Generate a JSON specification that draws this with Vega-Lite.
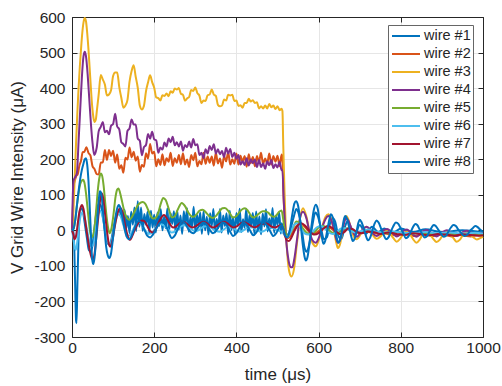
{
"$schema":"https://vega.github.io/schema/vega-lite/v6.json",
"width":411,"height":320,
"autosize":{"type":"none"},
"padding":{"left":72,"top":17,"right":19,"bottom":49},
"background":"white",
"config":{
 "view":{"stroke":null},
 "font":"Liberation Sans",
 "axis":{"labelFont":"Liberation Sans","labelFontSize":15.5,"labelColor":"#262626","titleFont":"Liberation Sans","titleFontSize":17,"titleFontWeight":"normal","titleColor":"#262626","domainColor":"#262626","tickColor":"#262626","tickSize":-5,"gridColor":"#e6e6e6","domainWidth":1,"tickWidth":1,"labelFlush":false},
 "legend":{"labelFont":"Liberation Sans"}
},
"data":{"values":[
{"s":1,"t":0,"v":0},{"s":1,"t":4,"v":0},{"s":1,"t":7,"v":-120},{"s":1,"t":10,"v":-255},{"s":1,"t":11,"v":-261},{"s":1,"t":13,"v":-160},{"s":1,"t":16,"v":-20},{"s":1,"t":19,"v":55},{"s":1,"t":23,"v":62},{"s":1,"t":27,"v":50},{"s":1,"t":31,"v":20},{"s":1,"t":36,"v":-20},{"s":1,"t":41,"v":-55},{"s":1,"t":46,"v":-60},{"s":1,"t":50,"v":-40},{"s":1,"t":55,"v":10},{"s":1,"t":60,"v":55},{"s":1,"t":65,"v":75},{"s":1,"t":70,"v":70},{"s":1,"t":75,"v":40},{"s":1,"t":80,"v":0},{"s":1,"t":85,"v":-30},{"s":1,"t":90,"v":-40},{"s":1,"t":95,"v":-30},{"s":1,"t":100,"v":0},{"s":1,"t":105,"v":30},{"s":1,"t":110,"v":50},{"s":1,"t":115,"v":55},{"s":1,"t":120,"v":40},{"s":1,"t":124,"v":30},
{"s":1,"t":128,"v":58},{"s":1,"t":132,"v":4},{"s":1,"t":136,"v":40},{"s":1,"t":140,"v":-8},{"s":1,"t":144,"v":52},{"s":1,"t":148,"v":16},{"s":1,"t":152,"v":64},{"s":1,"t":156,"v":-2},{"s":1,"t":160,"v":82},{"s":1,"t":164,"v":10},{"s":1,"t":168,"v":64},{"s":1,"t":172,"v":-2},{"s":1,"t":176,"v":46},{"s":1,"t":180,"v":16},{"s":1,"t":184,"v":52},{"s":1,"t":188,"v":-8},
{"s":1,"t":192,"v":55},{"s":1,"t":196,"v":8},{"s":1,"t":200,"v":44},{"s":1,"t":204,"v":-6},{"s":1,"t":208,"v":50},{"s":1,"t":212,"v":12},{"s":1,"t":216,"v":60},{"s":1,"t":220,"v":0},{"s":1,"t":224,"v":38},{"s":1,"t":228,"v":6},{"s":1,"t":232,"v":62},{"s":1,"t":236,"v":-4},{"s":1,"t":240,"v":48},{"s":1,"t":244,"v":18},{"s":1,"t":248,"v":54},{"s":1,"t":252,"v":-6},
{"s":1,"t":256,"v":56},{"s":1,"t":260,"v":2},{"s":1,"t":264,"v":42},{"s":1,"t":268,"v":-10},{"s":1,"t":272,"v":54},{"s":1,"t":276,"v":14},{"s":1,"t":280,"v":62},{"s":1,"t":284,"v":-4},{"s":1,"t":288,"v":36},{"s":1,"t":292,"v":8},{"s":1,"t":296,"v":66},{"s":1,"t":300,"v":-3},{"s":1,"t":304,"v":44},{"s":1,"t":308,"v":14},{"s":1,"t":312,"v":50},{"s":1,"t":316,"v":-10},
{"s":1,"t":320,"v":54},{"s":1,"t":324,"v":0},{"s":1,"t":328,"v":38},{"s":1,"t":332,"v":-12},{"s":1,"t":336,"v":48},{"s":1,"t":340,"v":12},{"s":1,"t":344,"v":60},{"s":1,"t":348,"v":-6},{"s":1,"t":352,"v":32},{"s":1,"t":356,"v":6},{"s":1,"t":360,"v":60},{"s":1,"t":364,"v":-6},{"s":1,"t":368,"v":42},{"s":1,"t":372,"v":12},{"s":1,"t":376,"v":48},{"s":1,"t":380,"v":-11},
{"s":1,"t":384,"v":55},{"s":1,"t":388,"v":1},{"s":1,"t":392,"v":37},{"s":1,"t":396,"v":-9},{"s":1,"t":400,"v":49},{"s":1,"t":404,"v":13},{"s":1,"t":408,"v":61},{"s":1,"t":412,"v":-5},{"s":1,"t":416,"v":31},{"s":1,"t":420,"v":7},{"s":1,"t":424,"v":61},{"s":1,"t":428,"v":-5},{"s":1,"t":432,"v":43},{"s":1,"t":436,"v":13},{"s":1,"t":440,"v":49},{"s":1,"t":444,"v":-11},
{"s":1,"t":448,"v":53},{"s":1,"t":452,"v":3},{"s":1,"t":456,"v":39},{"s":1,"t":460,"v":-11},{"s":1,"t":464,"v":47},{"s":1,"t":468,"v":11},{"s":1,"t":472,"v":59},{"s":1,"t":476,"v":-3},{"s":1,"t":480,"v":33},{"s":1,"t":484,"v":5},{"s":1,"t":488,"v":63},{"s":1,"t":492,"v":-7},{"s":1,"t":496,"v":41},{"s":1,"t":500,"v":15},{"s":1,"t":504,"v":51},{"s":1,"t":508,"v":-9},
{"s":1,"t":510,"v":20},{"s":1,"t":513,"v":10},{"s":1,"t":518,"v":-8},{"s":1,"t":525,"v":-12},{"s":1,"t":532,"v":5},{"s":1,"t":540,"v":40},{"s":1,"t":546,"v":60},{"s":1,"t":552,"v":45},{"s":1,"t":560,"v":-5},{"s":1,"t":566,"v":-50},{"s":1,"t":571,"v":-60},{"s":1,"t":577,"v":-40},{"s":1,"t":585,"v":15},{"s":1,"t":592,"v":50},{"s":1,"t":598,"v":40},{"s":1,"t":606,"v":5},{"s":1,"t":613,"v":-25},{"s":1,"t":620,"v":-20},{"s":1,"t":628,"v":20},{"s":1,"t":634,"v":35},{"s":1,"t":640,"v":25},{"s":1,"t":648,"v":-15},{"s":1,"t":655,"v":-25},{"s":1,"t":664,"v":10},{"s":1,"t":670,"v":25},{"s":1,"t":678,"v":10},{"s":1,"t":688,"v":-15},{"s":1,"t":700,"v":15},{"s":1,"t":715,"v":-10},{"s":1,"t":730,"v":10},{"s":1,"t":745,"v":-5},{"s":1,"t":760,"v":5},{"s":1,"t":780,"v":-8},{"s":1,"t":800,"v":5},{"s":1,"t":830,"v":-5},{"s":1,"t":860,"v":3},{"s":1,"t":900,"v":-5},{"s":1,"t":950,"v":0},{"s":1,"t":1000,"v":-6},

{"s":2,"t":0,"v":0},{"s":2,"t":2,"v":60},{"s":2,"t":4,"v":125},{"s":2,"t":7,"v":140},{"s":2,"t":10,"v":152},{"s":2,"t":14,"v":158},{"s":2,"t":18,"v":182},{"s":2,"t":22,"v":196},{"s":2,"t":26,"v":220},{"s":2,"t":30,"v":221},{"s":2,"t":35,"v":234},{"s":2,"t":40,"v":218},{"s":2,"t":45,"v":210},{"s":2,"t":50,"v":180},{"s":2,"t":55,"v":172},{"s":2,"t":60,"v":158},
{"s":2,"t":65,"v":157},{"s":2,"t":70,"v":191},{"s":2,"t":75,"v":191},{"s":2,"t":80,"v":226},{"s":2,"t":85,"v":198},{"s":2,"t":90,"v":226},{"s":2,"t":95,"v":209},{"s":2,"t":100,"v":224},{"s":2,"t":105,"v":190},{"s":2,"t":110,"v":213},{"s":2,"t":115,"v":173},{"s":2,"t":120,"v":183},{"s":2,"t":125,"v":162},{"s":2,"t":130,"v":204},{"s":2,"t":135,"v":199},{"s":2,"t":140,"v":233},{"s":2,"t":145,"v":205},{"s":2,"t":150,"v":221},{"s":2,"t":155,"v":196},{"s":2,"t":160,"v":208},{"s":2,"t":165,"v":165},{"s":2,"t":170,"v":184},{"s":2,"t":175,"v":179},{"s":2,"t":180,"v":217},{"s":2,"t":185,"v":202},{"s":2,"t":190,"v":243},{"s":2,"t":195,"v":216},{"s":2,"t":200,"v":221},{"s":2,"t":205,"v":180},{"s":2,"t":210,"v":200},{"s":2,"t":215,"v":184},{"s":2,"t":220,"v":214},{"s":2,"t":225,"v":183},{"s":2,"t":230,"v":203},{"s":2,"t":235,"v":193},{"s":2,"t":240,"v":218},{"s":2,"t":245,"v":181},{"s":2,"t":250,"v":203},{"s":2,"t":255,"v":190},{"s":2,"t":260,"v":212},{"s":2,"t":265,"v":186},{"s":2,"t":270,"v":217},{"s":2,"t":275,"v":185},{"s":2,"t":280,"v":199},{"s":2,"t":285,"v":178},{"s":2,"t":290,"v":212},{"s":2,"t":295,"v":197},{"s":2,"t":300,"v":218},{"s":2,"t":305,"v":180},{"s":2,"t":310,"v":195},{"s":2,"t":315,"v":186},{"s":2,"t":320,"v":218},{"s":2,"t":325,"v":187},{"s":2,"t":330,"v":208},{"s":2,"t":335,"v":190},{"s":2,"t":340,"v":208},{"s":2,"t":345,"v":182},{"s":2,"t":350,"v":218},{"s":2,"t":355,"v":188},{"s":2,"t":360,"v":202},{"s":2,"t":365,"v":176},{"s":2,"t":370,"v":209},{"s":2,"t":375,"v":194},{"s":2,"t":380,"v":220},{"s":2,"t":385,"v":185},{"s":2,"t":390,"v":200},{"s":2,"t":395,"v":187},{"s":2,"t":400,"v":216},{"s":2,"t":405,"v":185},{"s":2,"t":410,"v":210},{"s":2,"t":415,"v":193},{"s":2,"t":420,"v":209},{"s":2,"t":425,"v":179},{"s":2,"t":430,"v":214},{"s":2,"t":435,"v":189},{"s":2,"t":440,"v":206},{"s":2,"t":445,"v":180},{"s":2,"t":450,"v":209},{"s":2,"t":455,"v":192},{"s":2,"t":460,"v":218},{"s":2,"t":465,"v":186},{"s":2,"t":470,"v":202},{"s":2,"t":475,"v":188},{"s":2,"t":480,"v":216},{"s":2,"t":485,"v":185},{"s":2,"t":490,"v":209},{"s":2,"t":495,"v":193},{"s":2,"t":500,"v":210},{"s":2,"t":505,"v":181},{"s":2,"t":510,"v":213},
{"s":2,"t":512,"v":205},{"s":2,"t":514,"v":120},{"s":2,"t":517,"v":40},{"s":2,"t":520,"v":-5},{"s":2,"t":524,"v":-22},{"s":2,"t":530,"v":-18},{"s":2,"t":538,"v":-2},{"s":2,"t":548,"v":14},{"s":2,"t":558,"v":18},{"s":2,"t":568,"v":8},{"s":2,"t":578,"v":-5},{"s":2,"t":588,"v":-10},{"s":2,"t":600,"v":-2},{"s":2,"t":612,"v":8},{"s":2,"t":622,"v":10},{"s":2,"t":632,"v":4},{"s":2,"t":642,"v":-5},{"s":2,"t":652,"v":-10},{"s":2,"t":662,"v":-4},{"s":2,"t":672,"v":5},{"s":2,"t":682,"v":2},{"s":2,"t":692,"v":-5},{"s":2,"t":702,"v":-8},{"s":2,"t":715,"v":-4},{"s":2,"t":730,"v":-6},{"s":2,"t":745,"v":-10},{"s":2,"t":760,"v":-8},{"s":2,"t":775,"v":-12},{"s":2,"t":790,"v":-14},{"s":2,"t":805,"v":-9},{"s":2,"t":820,"v":-12},{"s":2,"t":835,"v":-16},{"s":2,"t":850,"v":-11},{"s":2,"t":865,"v":-13},{"s":2,"t":880,"v":-16},{"s":2,"t":895,"v":-12},{"s":2,"t":910,"v":-14},{"s":2,"t":925,"v":-17},{"s":2,"t":940,"v":-13},{"s":2,"t":955,"v":-15},{"s":2,"t":970,"v":-17},{"s":2,"t":985,"v":-14},{"s":2,"t":1000,"v":-16},

{"s":3,"t":0,"v":0},{"s":3,"t":2,"v":20},{"s":3,"t":4,"v":70},{"s":3,"t":6,"v":130},{"s":3,"t":8,"v":190},{"s":3,"t":10,"v":250},{"s":3,"t":13,"v":330},{"s":3,"t":16,"v":400},{"s":3,"t":19,"v":460},{"s":3,"t":22,"v":510},{"s":3,"t":25,"v":555},{"s":3,"t":28,"v":585},{"s":3,"t":31,"v":597},{"s":3,"t":34,"v":588},{"s":3,"t":37,"v":555},{"s":3,"t":40,"v":510},{"s":3,"t":43,"v":455},{"s":3,"t":46,"v":400},{"s":3,"t":49,"v":350},{"s":3,"t":52,"v":318},{"s":3,"t":55,"v":305},{"s":3,"t":58,"v":312},
{"s":3,"t":60,"v":331},{"s":3,"t":65,"v":383},{"s":3,"t":70,"v":437},{"s":3,"t":75,"v":424},{"s":3,"t":80,"v":410},{"s":3,"t":85,"v":379},{"s":3,"t":90,"v":382},{"s":3,"t":95,"v":394},{"s":3,"t":100,"v":434},{"s":3,"t":105,"v":444},{"s":3,"t":110,"v":444},{"s":3,"t":115,"v":403},{"s":3,"t":120,"v":373},{"s":3,"t":125,"v":345},{"s":3,"t":130,"v":351},{"s":3,"t":135,"v":367},{"s":3,"t":140,"v":418},{"s":3,"t":145,"v":448},{"s":3,"t":150,"v":464},{"s":3,"t":155,"v":432},{"s":3,"t":160,"v":401},{"s":3,"t":165,"v":351},{"s":3,"t":170,"v":340},{"s":3,"t":175,"v":350},{"s":3,"t":180,"v":391},{"s":3,"t":185,"v":416},{"s":3,"t":190,"v":436},{"s":3,"t":195,"v":417},{"s":3,"t":200,"v":401},{"s":3,"t":205,"v":374},{"s":3,"t":210,"v":372},{"s":3,"t":215,"v":365},{"s":3,"t":220,"v":380},{"s":3,"t":225,"v":378},{"s":3,"t":230,"v":385},{"s":3,"t":235,"v":377},{"s":3,"t":240,"v":391},{"s":3,"t":245,"v":387},{"s":3,"t":250,"v":399},{"s":3,"t":255,"v":396},{"s":3,"t":260,"v":400},{"s":3,"t":265,"v":384},{"s":3,"t":270,"v":381},{"s":3,"t":275,"v":365},{"s":3,"t":280,"v":371},{"s":3,"t":285,"v":375},{"s":3,"t":290,"v":395},{"s":3,"t":295,"v":392},{"s":3,"t":300,"v":402},{"s":3,"t":305,"v":386},{"s":3,"t":310,"v":379},{"s":3,"t":315,"v":358},{"s":3,"t":320,"v":365},{"s":3,"t":325,"v":364},{"s":3,"t":330,"v":380},{"s":3,"t":335,"v":382},{"s":3,"t":340,"v":396},{"s":3,"t":345,"v":382},{"s":3,"t":350,"v":378},{"s":3,"t":355,"v":353},{"s":3,"t":360,"v":349},{"s":3,"t":365,"v":351},{"s":3,"t":370,"v":368},{"s":3,"t":375,"v":365},{"s":3,"t":380,"v":381},{"s":3,"t":385,"v":379},{"s":3,"t":390,"v":381},{"s":3,"t":395,"v":364},{"s":3,"t":400,"v":365},{"s":3,"t":405,"v":350},{"s":3,"t":410,"v":352},{"s":3,"t":415,"v":345},{"s":3,"t":420,"v":358},{"s":3,"t":425,"v":358},{"s":3,"t":430,"v":370},{"s":3,"t":435,"v":362},{"s":3,"t":440,"v":366},{"s":3,"t":445,"v":358},{"s":3,"t":450,"v":360},{"s":3,"t":455,"v":343},{"s":3,"t":460,"v":349},{"s":3,"t":465,"v":343},{"s":3,"t":470,"v":351},{"s":3,"t":475,"v":343},{"s":3,"t":480,"v":355},{"s":3,"t":485,"v":346},{"s":3,"t":490,"v":351},{"s":3,"t":495,"v":341},{"s":3,"t":500,"v":349},{"s":3,"t":505,"v":338},{"s":3,"t":510,"v":342},
{"s":3,"t":512,"v":336},{"s":3,"t":514,"v":240},{"s":3,"t":517,"v":110},{"s":3,"t":520,"v":10},{"s":3,"t":524,"v":-70},{"s":3,"t":529,"v":-118},{"s":3,"t":534,"v":-130},{"s":3,"t":540,"v":-110},{"s":3,"t":547,"v":-40},{"s":3,"t":555,"v":35},{"s":3,"t":562,"v":62},{"s":3,"t":570,"v":40},{"s":3,"t":578,"v":-5},{"s":3,"t":585,"v":-35},{"s":3,"t":593,"v":-45},{"s":3,"t":601,"v":-25},{"s":3,"t":610,"v":15},{"s":3,"t":617,"v":38},{"s":3,"t":624,"v":45},{"s":3,"t":631,"v":30},{"s":3,"t":638,"v":-5},{"s":3,"t":643,"v":-35},{"s":3,"t":647,"v":-50},{"s":3,"t":652,"v":-40},{"s":3,"t":658,"v":0},{"s":3,"t":663,"v":30},{"s":3,"t":667,"v":40},{"s":3,"t":672,"v":32},{"s":3,"t":680,"v":0},{"s":3,"t":687,"v":-20},{"s":3,"t":693,"v":-25},{"s":3,"t":700,"v":-15},{"s":3,"t":708,"v":2},{"s":3,"t":717,"v":10},{"s":3,"t":725,"v":0},{"s":3,"t":733,"v":-15},{"s":3,"t":741,"v":-24},{"s":3,"t":750,"v":-18},{"s":3,"t":758,"v":-6},{"s":3,"t":765,"v":-1},{"s":3,"t":773,"v":-8},{"s":3,"t":782,"v":-22},{"s":3,"t":790,"v":-32},{"s":3,"t":798,"v":-24},{"s":3,"t":806,"v":-10},{"s":3,"t":814,"v":-3},{"s":3,"t":822,"v":-10},{"s":3,"t":830,"v":-25},{"s":3,"t":838,"v":-35},{"s":3,"t":846,"v":-26},{"s":3,"t":854,"v":-10},{"s":3,"t":862,"v":-3},{"s":3,"t":870,"v":-10},{"s":3,"t":879,"v":-24},{"s":3,"t":887,"v":-33},{"s":3,"t":895,"v":-26},{"s":3,"t":903,"v":-12},{"s":3,"t":911,"v":-4},{"s":3,"t":919,"v":-10},{"s":3,"t":928,"v":-22},{"s":3,"t":936,"v":-32},{"s":3,"t":944,"v":-26},{"s":3,"t":952,"v":-12},{"s":3,"t":960,"v":-5},{"s":3,"t":968,"v":-10},{"s":3,"t":977,"v":-20},{"s":3,"t":985,"v":-26},{"s":3,"t":993,"v":-22},{"s":3,"t":1000,"v":-18},

{"s":4,"t":0,"v":0},{"s":4,"t":2,"v":100},{"s":4,"t":4,"v":140},{"s":4,"t":8,"v":150},{"s":4,"t":12,"v":162},{"s":4,"t":16,"v":250},{"s":4,"t":20,"v":340},{"s":4,"t":24,"v":430},{"s":4,"t":28,"v":490},{"s":4,"t":31,"v":502},{"s":4,"t":34,"v":490},{"s":4,"t":38,"v":440},{"s":4,"t":42,"v":370},{"s":4,"t":46,"v":300},{"s":4,"t":50,"v":245},{"s":4,"t":54,"v":212},{"s":4,"t":57,"v":218},
{"s":4,"t":60,"v":232},{"s":4,"t":65,"v":279},{"s":4,"t":70,"v":291},{"s":4,"t":75,"v":305},{"s":4,"t":80,"v":276},{"s":4,"t":85,"v":280},{"s":4,"t":90,"v":270},{"s":4,"t":95,"v":294},{"s":4,"t":100,"v":299},{"s":4,"t":105,"v":328},{"s":4,"t":110,"v":292},{"s":4,"t":115,"v":284},{"s":4,"t":120,"v":248},{"s":4,"t":125,"v":243},{"s":4,"t":130,"v":236},{"s":4,"t":135,"v":280},{"s":4,"t":140,"v":287},{"s":4,"t":145,"v":312},{"s":4,"t":150,"v":298},{"s":4,"t":155,"v":298},{"s":4,"t":160,"v":258},{"s":4,"t":165,"v":252},{"s":4,"t":170,"v":211},{"s":4,"t":175,"v":234},{"s":4,"t":180,"v":240},{"s":4,"t":185,"v":271},{"s":4,"t":190,"v":258},{"s":4,"t":195,"v":277},{"s":4,"t":200,"v":256},{"s":4,"t":205,"v":253},{"s":4,"t":210,"v":218},{"s":4,"t":215,"v":233},{"s":4,"t":220,"v":227},{"s":4,"t":225,"v":247},{"s":4,"t":230,"v":236},{"s":4,"t":235,"v":258},{"s":4,"t":240,"v":248},{"s":4,"t":245,"v":263},{"s":4,"t":250,"v":239},{"s":4,"t":255,"v":248},{"s":4,"t":260,"v":236},{"s":4,"t":265,"v":250},{"s":4,"t":270,"v":224},{"s":4,"t":275,"v":240},{"s":4,"t":280,"v":234},{"s":4,"t":285,"v":250},{"s":4,"t":290,"v":233},{"s":4,"t":295,"v":257},{"s":4,"t":300,"v":239},{"s":4,"t":305,"v":242},{"s":4,"t":310,"v":212},{"s":4,"t":315,"v":218},{"s":4,"t":320,"v":203},{"s":4,"t":325,"v":228},{"s":4,"t":330,"v":216},{"s":4,"t":335,"v":237},{"s":4,"t":340,"v":226},{"s":4,"t":345,"v":242},{"s":4,"t":350,"v":216},{"s":4,"t":355,"v":228},{"s":4,"t":360,"v":214},{"s":4,"t":365,"v":223},{"s":4,"t":370,"v":206},{"s":4,"t":375,"v":232},{"s":4,"t":380,"v":216},{"s":4,"t":385,"v":229},{"s":4,"t":390,"v":206},{"s":4,"t":395,"v":218},{"s":4,"t":400,"v":201},{"s":4,"t":405,"v":212},{"s":4,"t":410,"v":185},{"s":4,"t":415,"v":194},{"s":4,"t":420,"v":184},{"s":4,"t":425,"v":203},{"s":4,"t":430,"v":182},{"s":4,"t":435,"v":199},{"s":4,"t":440,"v":189},{"s":4,"t":445,"v":199},{"s":4,"t":450,"v":178},{"s":4,"t":455,"v":198},{"s":4,"t":460,"v":178},{"s":4,"t":465,"v":189},{"s":4,"t":470,"v":173},{"s":4,"t":475,"v":194},{"s":4,"t":480,"v":183},{"s":4,"t":485,"v":198},{"s":4,"t":490,"v":175},{"s":4,"t":495,"v":186},{"s":4,"t":500,"v":177},{"s":4,"t":505,"v":193},{"s":4,"t":510,"v":169},
{"s":4,"t":512,"v":170},{"s":4,"t":515,"v":90},{"s":4,"t":518,"v":20},{"s":4,"t":522,"v":-40},{"s":4,"t":527,"v":-85},{"s":4,"t":532,"v":-104},{"s":4,"t":536,"v":-104},{"s":4,"t":541,"v":-80},{"s":4,"t":547,"v":-30},{"s":4,"t":554,"v":30},{"s":4,"t":562,"v":52},{"s":4,"t":570,"v":35},{"s":4,"t":578,"v":-5},{"s":4,"t":585,"v":-28},{"s":4,"t":593,"v":-35},{"s":4,"t":601,"v":-20},{"s":4,"t":610,"v":12},{"s":4,"t":617,"v":32},{"s":4,"t":624,"v":40},{"s":4,"t":631,"v":28},{"s":4,"t":638,"v":0},{"s":4,"t":643,"v":-25},{"s":4,"t":647,"v":-35},{"s":4,"t":652,"v":-28},{"s":4,"t":658,"v":0},{"s":4,"t":663,"v":25},{"s":4,"t":667,"v":35},{"s":4,"t":672,"v":28},{"s":4,"t":680,"v":5},{"s":4,"t":687,"v":-12},{"s":4,"t":693,"v":-18},{"s":4,"t":700,"v":-10},{"s":4,"t":708,"v":3},{"s":4,"t":717,"v":10},{"s":4,"t":725,"v":3},{"s":4,"t":733,"v":-10},{"s":4,"t":741,"v":-16},{"s":4,"t":750,"v":-10},{"s":4,"t":758,"v":0},{"s":4,"t":767,"v":4},{"s":4,"t":775,"v":-2},{"s":4,"t":782,"v":-10},{"s":4,"t":790,"v":-17},{"s":4,"t":798,"v":-12},{"s":4,"t":806,"v":-2},{"s":4,"t":815,"v":2},{"s":4,"t":822,"v":-3},{"s":4,"t":830,"v":-12},{"s":4,"t":838,"v":-18},{"s":4,"t":846,"v":-12},{"s":4,"t":854,"v":-3},{"s":4,"t":863,"v":1},{"s":4,"t":870,"v":-3},{"s":4,"t":879,"v":-12},{"s":4,"t":887,"v":-17},{"s":4,"t":895,"v":-12},{"s":4,"t":903,"v":-4},{"s":4,"t":912,"v":0},{"s":4,"t":919,"v":-4},{"s":4,"t":928,"v":-12},{"s":4,"t":936,"v":-16},{"s":4,"t":944,"v":-12},{"s":4,"t":952,"v":-4},{"s":4,"t":961,"v":-1},{"s":4,"t":968,"v":-4},{"s":4,"t":977,"v":-10},{"s":4,"t":985,"v":-14},{"s":4,"t":993,"v":-10},{"s":4,"t":1000,"v":-6},

{"s":5,"t":0,"v":0},{"s":5,"t":4,"v":5},{"s":5,"t":8,"v":30},{"s":5,"t":12,"v":70},{"s":5,"t":16,"v":105},{"s":5,"t":20,"v":130},{"s":5,"t":24,"v":140},{"s":5,"t":27,"v":142},{"s":5,"t":30,"v":135},{"s":5,"t":34,"v":105},{"s":5,"t":38,"v":60},{"s":5,"t":42,"v":15},{"s":5,"t":45,"v":-10},{"s":5,"t":48,"v":-20},{"s":5,"t":51,"v":-15},{"s":5,"t":55,"v":10},{"s":5,"t":59,"v":60},{"s":5,"t":63,"v":115},{"s":5,"t":67,"v":150},{"s":5,"t":70,"v":160},{"s":5,"t":73,"v":155},{"s":5,"t":77,"v":125},{"s":5,"t":81,"v":75},{"s":5,"t":85,"v":30},{"s":5,"t":89,"v":0},{"s":5,"t":92,"v":-8},{"s":5,"t":96,"v":5},{"s":5,"t":101,"v":45},{"s":5,"t":106,"v":95},{"s":5,"t":110,"v":115},{"s":5,"t":113,"v":118},{"s":5,"t":117,"v":105},{"s":5,"t":122,"v":80},{"s":5,"t":128,"v":50},{"s":5,"t":134,"v":35},{"s":5,"t":140,"v":30},{"s":5,"t":146,"v":38},{"s":5,"t":153,"v":55},{"s":5,"t":160,"v":70},{"s":5,"t":167,"v":78},{"s":5,"t":172,"v":80},{"s":5,"t":178,"v":75},{"s":5,"t":185,"v":58},{"s":5,"t":192,"v":40},{"s":5,"t":197,"v":33},{"s":5,"t":203,"v":35},{"s":5,"t":210,"v":50},{"s":5,"t":216,"v":75},{"s":5,"t":222,"v":91},{"s":5,"t":228,"v":85},{"s":5,"t":235,"v":62},{"s":5,"t":243,"v":36},{"s":5,"t":250,"v":40},{"s":5,"t":258,"v":60},{"s":5,"t":267,"v":77},{"s":5,"t":275,"v":68},{"s":5,"t":283,"v":50},{"s":5,"t":290,"v":40},{"s":5,"t":296,"v":38},{"s":5,"t":303,"v":45},{"s":5,"t":310,"v":55},{"s":5,"t":318,"v":58},{"s":5,"t":326,"v":50},{"s":5,"t":334,"v":40},{"s":5,"t":343,"v":35},{"s":5,"t":350,"v":40},{"s":5,"t":358,"v":52},{"s":5,"t":366,"v":62},{"s":5,"t":372,"v":63},{"s":5,"t":380,"v":55},{"s":5,"t":387,"v":42},{"s":5,"t":392,"v":36},{"s":5,"t":400,"v":40},{"s":5,"t":408,"v":52},{"s":5,"t":415,"v":60},{"s":5,"t":421,"v":62},{"s":5,"t":428,"v":55},{"s":5,"t":435,"v":42},{"s":5,"t":441,"v":36},{"s":5,"t":448,"v":40},{"s":5,"t":456,"v":48},{"s":5,"t":464,"v":54},{"s":5,"t":470,"v":54},{"s":5,"t":477,"v":50},{"s":5,"t":484,"v":42},{"s":5,"t":490,"v":38},{"s":5,"t":497,"v":42},{"s":5,"t":504,"v":52},{"s":5,"t":510,"v":56},
{"s":5,"t":514,"v":30},{"s":5,"t":518,"v":0},{"s":5,"t":524,"v":-15},{"s":5,"t":530,"v":-10},{"s":5,"t":538,"v":8},{"s":5,"t":546,"v":25},{"s":5,"t":554,"v":20},{"s":5,"t":562,"v":5},{"s":5,"t":572,"v":-8},{"s":5,"t":582,"v":-12},{"s":5,"t":592,"v":-2},{"s":5,"t":602,"v":10},{"s":5,"t":612,"v":12},{"s":5,"t":622,"v":4},{"s":5,"t":632,"v":-6},{"s":5,"t":642,"v":-10},{"s":5,"t":652,"v":-3},{"s":5,"t":662,"v":6},{"s":5,"t":672,"v":5},{"s":5,"t":685,"v":-4},{"s":5,"t":700,"v":-6},{"s":5,"t":720,"v":0},{"s":5,"t":740,"v":-5},{"s":5,"t":760,"v":-8},{"s":5,"t":790,"v":-5},{"s":5,"t":820,"v":-9},{"s":5,"t":850,"v":-7},{"s":5,"t":880,"v":-10},{"s":5,"t":910,"v":-8},{"s":5,"t":940,"v":-11},{"s":5,"t":970,"v":-9},{"s":5,"t":1000,"v":-12},

{"s":6,"t":0,"v":0},{"s":6,"t":3,"v":-20},{"s":6,"t":6,"v":-45},{"s":6,"t":9,"v":-55},{"s":6,"t":12,"v":-40},{"s":6,"t":16,"v":0},{"s":6,"t":20,"v":35},{"s":6,"t":25,"v":50},{"s":6,"t":30,"v":40},{"s":6,"t":36,"v":5},{"s":6,"t":42,"v":-30},{"s":6,"t":47,"v":-45},{"s":6,"t":52,"v":-40},{"s":6,"t":58,"v":0},{"s":6,"t":64,"v":45},{"s":6,"t":69,"v":55},{"s":6,"t":75,"v":35},{"s":6,"t":82,"v":-10},{"s":6,"t":88,"v":-35},{"s":6,"t":93,"v":-38},{"s":6,"t":99,"v":-15},{"s":6,"t":106,"v":25},{"s":6,"t":112,"v":45},{"s":6,"t":118,"v":40},{"s":6,"t":125,"v":15},{"s":6,"t":132,"v":-10},{"s":6,"t":139,"v":-15},{"s":6,"t":146,"v":-5},{"s":6,"t":154,"v":15},{"s":6,"t":162,"v":22},{"s":6,"t":170,"v":15},{"s":6,"t":178,"v":0},{"s":6,"t":186,"v":-10},{"s":6,"t":194,"v":-8},{"s":6,"t":202,"v":5},{"s":6,"t":212,"v":18},{"s":6,"t":222,"v":15},{"s":6,"t":232,"v":5},{"s":6,"t":242,"v":-6},{"s":6,"t":252,"v":-2},{"s":6,"t":262,"v":8},{"s":6,"t":272,"v":14},{"s":6,"t":282,"v":10},{"s":6,"t":292,"v":2},{"s":6,"t":300,"v":-3},{"s":6,"t":310,"v":2},{"s":6,"t":320,"v":10},{"s":6,"t":330,"v":12},{"s":6,"t":340,"v":6},{"s":6,"t":350,"v":-2},{"s":6,"t":360,"v":-4},{"s":6,"t":370,"v":3},{"s":6,"t":380,"v":10},{"s":6,"t":390,"v":8},{"s":6,"t":400,"v":0},{"s":6,"t":410,"v":-4},{"s":6,"t":420,"v":2},{"s":6,"t":430,"v":9},{"s":6,"t":440,"v":8},{"s":6,"t":450,"v":1},{"s":6,"t":460,"v":-4},{"s":6,"t":470,"v":0},{"s":6,"t":480,"v":8},{"s":6,"t":490,"v":6},{"s":6,"t":500,"v":0},{"s":6,"t":508,"v":-3},
{"s":6,"t":512,"v":-5},{"s":6,"t":518,"v":-15},{"s":6,"t":525,"v":-18},{"s":6,"t":532,"v":-5},{"s":6,"t":540,"v":15},{"s":6,"t":548,"v":20},{"s":6,"t":556,"v":8},{"s":6,"t":565,"v":-8},{"s":6,"t":575,"v":-12},{"s":6,"t":585,"v":-5},{"s":6,"t":595,"v":8},{"s":6,"t":605,"v":12},{"s":6,"t":615,"v":5},{"s":6,"t":625,"v":-6},{"s":6,"t":635,"v":-10},{"s":6,"t":645,"v":-4},{"s":6,"t":655,"v":5},{"s":6,"t":665,"v":6},{"s":6,"t":675,"v":0},{"s":6,"t":690,"v":-6},{"s":6,"t":705,"v":-2},{"s":6,"t":720,"v":2},{"s":6,"t":740,"v":-4},{"s":6,"t":760,"v":-6},{"s":6,"t":780,"v":-3},{"s":6,"t":800,"v":-6},{"s":6,"t":830,"v":-8},{"s":6,"t":860,"v":-5},{"s":6,"t":890,"v":-8},{"s":6,"t":920,"v":-6},{"s":6,"t":950,"v":-9},{"s":6,"t":980,"v":-7},{"s":6,"t":1000,"v":-9},

{"s":7,"t":0,"v":0},{"s":7,"t":3,"v":-10},{"s":7,"t":6,"v":-25},{"s":7,"t":9,"v":-20},{"s":7,"t":13,"v":10},{"s":7,"t":17,"v":45},{"s":7,"t":21,"v":65},{"s":7,"t":24,"v":71},{"s":7,"t":28,"v":60},{"s":7,"t":33,"v":20},{"s":7,"t":38,"v":-20},{"s":7,"t":43,"v":-55},{"s":7,"t":48,"v":-78},{"s":7,"t":51,"v":-83},{"s":7,"t":55,"v":-65},{"s":7,"t":60,"v":-10},{"s":7,"t":65,"v":50},{"s":7,"t":69,"v":90},{"s":7,"t":72,"v":104},{"s":7,"t":76,"v":90},{"s":7,"t":81,"v":40},{"s":7,"t":86,"v":-10},{"s":7,"t":90,"v":-40},{"s":7,"t":93,"v":-46},{"s":7,"t":98,"v":-30},{"s":7,"t":104,"v":10},{"s":7,"t":110,"v":45},{"s":7,"t":115,"v":60},{"s":7,"t":119,"v":62},{"s":7,"t":125,"v":40},{"s":7,"t":131,"v":5},{"s":7,"t":136,"v":-18},{"s":7,"t":141,"v":-27},{"s":7,"t":147,"v":-15},{"s":7,"t":154,"v":5},{"s":7,"t":162,"v":22},{"s":7,"t":170,"v":28},{"s":7,"t":176,"v":26},{"s":7,"t":183,"v":12},{"s":7,"t":190,"v":-2},{"s":7,"t":196,"v":-6},{"s":7,"t":203,"v":2},{"s":7,"t":212,"v":25},{"s":7,"t":220,"v":40},{"s":7,"t":224,"v":43},{"s":7,"t":230,"v":35},{"s":7,"t":238,"v":18},{"s":7,"t":246,"v":8},{"s":7,"t":254,"v":12},{"s":7,"t":262,"v":20},{"s":7,"t":270,"v":24},{"s":7,"t":278,"v":20},{"s":7,"t":286,"v":12},{"s":7,"t":294,"v":8},{"s":7,"t":302,"v":12},{"s":7,"t":312,"v":20},{"s":7,"t":320,"v":24},{"s":7,"t":328,"v":20},{"s":7,"t":336,"v":12},{"s":7,"t":344,"v":8},{"s":7,"t":352,"v":12},{"s":7,"t":362,"v":20},{"s":7,"t":370,"v":24},{"s":7,"t":378,"v":20},{"s":7,"t":386,"v":12},{"s":7,"t":394,"v":8},{"s":7,"t":402,"v":12},{"s":7,"t":412,"v":20},{"s":7,"t":420,"v":22},{"s":7,"t":428,"v":18},{"s":7,"t":436,"v":12},{"s":7,"t":444,"v":8},{"s":7,"t":452,"v":12},{"s":7,"t":462,"v":18},{"s":7,"t":470,"v":20},{"s":7,"t":478,"v":17},{"s":7,"t":486,"v":10},{"s":7,"t":494,"v":8},{"s":7,"t":502,"v":12},{"s":7,"t":508,"v":15},
{"s":7,"t":514,"v":5},{"s":7,"t":518,"v":-15},{"s":7,"t":523,"v":-28},{"s":7,"t":528,"v":-30},{"s":7,"t":534,"v":-20},{"s":7,"t":542,"v":0},{"s":7,"t":550,"v":15},{"s":7,"t":558,"v":20},{"s":7,"t":568,"v":12},{"s":7,"t":578,"v":-2},{"s":7,"t":590,"v":-12},{"s":7,"t":600,"v":-8},{"s":7,"t":612,"v":5},{"s":7,"t":622,"v":12},{"s":7,"t":632,"v":8},{"s":7,"t":642,"v":-3},{"s":7,"t":652,"v":-10},{"s":7,"t":662,"v":-5},{"s":7,"t":672,"v":5},{"s":7,"t":682,"v":4},{"s":7,"t":692,"v":-4},{"s":7,"t":705,"v":-8},{"s":7,"t":720,"v":-3},{"s":7,"t":735,"v":-5},{"s":7,"t":750,"v":-10},{"s":7,"t":770,"v":-6},{"s":7,"t":790,"v":-10},{"s":7,"t":810,"v":-13},{"s":7,"t":830,"v":-8},{"s":7,"t":850,"v":-11},{"s":7,"t":870,"v":-14},{"s":7,"t":890,"v":-10},{"s":7,"t":910,"v":-12},{"s":7,"t":930,"v":-15},{"s":7,"t":950,"v":-11},{"s":7,"t":970,"v":-13},{"s":7,"t":990,"v":-15},{"s":7,"t":1000,"v":-14},

{"s":8,"t":0,"v":0},{"s":8,"t":4,"v":5},{"s":8,"t":8,"v":30},{"s":8,"t":12,"v":70},{"s":8,"t":16,"v":110},{"s":8,"t":20,"v":145},{"s":8,"t":24,"v":170},{"s":8,"t":28,"v":188},{"s":8,"t":31,"v":200},{"s":8,"t":34,"v":203},{"s":8,"t":37,"v":185},{"s":8,"t":40,"v":140},{"s":8,"t":43,"v":70},{"s":8,"t":46,"v":-10},{"s":8,"t":49,"v":-80},{"s":8,"t":52,"v":-95},{"s":8,"t":55,"v":-75},{"s":8,"t":59,"v":-20},{"s":8,"t":63,"v":50},{"s":8,"t":66,"v":95},{"s":8,"t":68,"v":110},{"s":8,"t":71,"v":105},{"s":8,"t":75,"v":60},{"s":8,"t":79,"v":5},{"s":8,"t":83,"v":-45},{"s":8,"t":87,"v":-70},{"s":8,"t":91,"v":-78},{"s":8,"t":95,"v":-65},{"s":8,"t":100,"v":-20},{"s":8,"t":105,"v":30},{"s":8,"t":110,"v":62},{"s":8,"t":114,"v":71},{"s":8,"t":118,"v":62},{"s":8,"t":123,"v":35},{"s":8,"t":128,"v":5},{"s":8,"t":133,"v":-18},{"s":8,"t":138,"v":-25},{"s":8,"t":144,"v":-18},{"s":8,"t":150,"v":0},{"s":8,"t":157,"v":20},{"s":8,"t":163,"v":26},{"s":8,"t":169,"v":20},{"s":8,"t":176,"v":2},{"s":8,"t":183,"v":-15},{"s":8,"t":190,"v":-20},{"s":8,"t":197,"v":-12},{"s":8,"t":205,"v":5},{"s":8,"t":213,"v":20},{"s":8,"t":220,"v":24},{"s":8,"t":228,"v":15},{"s":8,"t":235,"v":-5},{"s":8,"t":243,"v":-22},{"s":8,"t":250,"v":-15},{"s":8,"t":258,"v":5},{"s":8,"t":268,"v":25},{"s":8,"t":276,"v":18},{"s":8,"t":284,"v":2},{"s":8,"t":290,"v":-6},{"s":8,"t":296,"v":-8},{"s":8,"t":303,"v":2},{"s":8,"t":312,"v":15},{"s":8,"t":320,"v":22},{"s":8,"t":328,"v":15},{"s":8,"t":336,"v":0},{"s":8,"t":343,"v":-8},{"s":8,"t":350,"v":-2},{"s":8,"t":358,"v":12},{"s":8,"t":368,"v":22},{"s":8,"t":376,"v":15},{"s":8,"t":384,"v":-2},{"s":8,"t":392,"v":-16},{"s":8,"t":400,"v":-8},{"s":8,"t":408,"v":8},{"s":8,"t":417,"v":22},{"s":8,"t":425,"v":15},{"s":8,"t":433,"v":0},{"s":8,"t":441,"v":-14},{"s":8,"t":449,"v":-5},{"s":8,"t":457,"v":10},{"s":8,"t":466,"v":22},{"s":8,"t":474,"v":14},{"s":8,"t":482,"v":-2},{"s":8,"t":490,"v":-16},{"s":8,"t":497,"v":-8},{"s":8,"t":504,"v":8},{"s":8,"t":510,"v":15},
{"s":8,"t":514,"v":5},{"s":8,"t":519,"v":-15},{"s":8,"t":524,"v":-20},{"s":8,"t":530,"v":0},{"s":8,"t":536,"v":45},{"s":8,"t":541,"v":75},{"s":8,"t":545,"v":82},{"s":8,"t":550,"v":70},{"s":8,"t":556,"v":20},{"s":8,"t":562,"v":-45},{"s":8,"t":566,"v":-75},{"s":8,"t":569,"v":-85},{"s":8,"t":573,"v":-75},{"s":8,"t":578,"v":-35},{"s":8,"t":583,"v":15},{"s":8,"t":588,"v":55},{"s":8,"t":593,"v":72},{"s":8,"t":598,"v":60},{"s":8,"t":603,"v":20},{"s":8,"t":608,"v":-20},{"s":8,"t":612,"v":-38},{"s":8,"t":616,"v":-30},{"s":8,"t":621,"v":0},{"s":8,"t":626,"v":30},{"s":8,"t":630,"v":45},{"s":8,"t":634,"v":38},{"s":8,"t":639,"v":10},{"s":8,"t":644,"v":-20},{"s":8,"t":648,"v":-35},{"s":8,"t":652,"v":-28},{"s":8,"t":657,"v":0},{"s":8,"t":661,"v":28},{"s":8,"t":665,"v":40},{"s":8,"t":669,"v":33},{"s":8,"t":674,"v":10},{"s":8,"t":679,"v":-15},{"s":8,"t":683,"v":-30},{"s":8,"t":687,"v":-25},{"s":8,"t":692,"v":-5},{"s":8,"t":696,"v":18},{"s":8,"t":700,"v":30},{"s":8,"t":704,"v":24},{"s":8,"t":710,"v":5},{"s":8,"t":715,"v":-15},{"s":8,"t":720,"v":-28},{"s":8,"t":725,"v":-22},{"s":8,"t":731,"v":0},{"s":8,"t":736,"v":18},{"s":8,"t":741,"v":28},{"s":8,"t":746,"v":22},{"s":8,"t":752,"v":5},{"s":8,"t":758,"v":-12},{"s":8,"t":764,"v":-25},{"s":8,"t":770,"v":-20},{"s":8,"t":776,"v":-3},{"s":8,"t":782,"v":12},{"s":8,"t":788,"v":22},{"s":8,"t":794,"v":18},{"s":8,"t":800,"v":5},{"s":8,"t":806,"v":-8},{"s":8,"t":812,"v":-22},{"s":8,"t":818,"v":-18},{"s":8,"t":824,"v":-5},{"s":8,"t":830,"v":10},{"s":8,"t":835,"v":18},{"s":8,"t":840,"v":15},{"s":8,"t":846,"v":2},{"s":8,"t":852,"v":-10},{"s":8,"t":858,"v":-20},{"s":8,"t":864,"v":-16},{"s":8,"t":870,"v":-3},{"s":8,"t":875,"v":8},{"s":8,"t":880,"v":15},{"s":8,"t":885,"v":12},{"s":8,"t":891,"v":2},{"s":8,"t":897,"v":-8},{"s":8,"t":904,"v":-18},{"s":8,"t":910,"v":-15},{"s":8,"t":916,"v":-3},{"s":8,"t":922,"v":8},{"s":8,"t":928,"v":15},{"s":8,"t":934,"v":12},{"s":8,"t":940,"v":2},{"s":8,"t":947,"v":-8},{"s":8,"t":955,"v":-16},{"s":8,"t":962,"v":-12},{"s":8,"t":968,"v":-2},{"s":8,"t":975,"v":6},{"s":8,"t":981,"v":12},{"s":8,"t":987,"v":9},{"s":8,"t":993,"v":2},{"s":8,"t":1000,"v":-4}
]},
"layer":[
 {"mark":{"type":"line","strokeWidth":2,"interpolate":"monotone"},
  "encoding":{
   "x":{"field":"t","type":"quantitative","scale":{"domain":[0,1000],"nice":false},
        "axis":{"orient":"bottom","values":[0,200,400,600,800,1000],"title":"time (μs)","grid":true,"labelExpr":"''+datum.value","labelPadding":8,"titleY":29,"titleBaseline":"top"}},
   "y":{"field":"v","type":"quantitative","scale":{"domain":[-300,600],"nice":false,"zero":false},
        "axis":{"orient":"left","values":[-300,-200,-100,0,100,200,300,400,500,600],"title":"V Grid Wire Intensity (μA)","grid":true,"labelExpr":"''+datum.value","labelPadding":12,"titleX":-46,"titleY":160,"titleBaseline":"bottom"}},
   "color":{"field":"s","type":"nominal","scale":{"domain":[1,2,3,4,5,6,7,8],"range":["#0072BD","#D95319","#EDB120","#7E2F8E","#77AC30","#4DBEEE","#A2142F","#0072BD"]},
        "legend":{"title":null,"labelExpr":"'wire #'+datum.label","orient":"none","legendX":316,"legendY":8,"padding":2,"strokeColor":"#666666","fillColor":"white","symbolType":"M-1,0H3","symbolSize":196,"symbolStrokeWidth":2,"symbolOffset":1,"labelFontSize":14.5,"labelColor":"#262626","labelOffset":17,"rowPadding":0,"clipHeight":18}}
  }},
 {"mark":{"type":"point","opacity":0},
  "encoding":{
   "x":{"field":"t","type":"quantitative","axis":{"orient":"top","values":[0,200,400,600,800,1000],"labels":false,"title":null,"grid":false}},
   "y":{"field":"v","type":"quantitative","axis":{"orient":"right","values":[-300,-200,-100,0,100,200,300,400,500,600],"labels":false,"title":null,"grid":false}}
  }}
],
"resolve":{"axis":{"x":"independent","y":"independent"}}
}
